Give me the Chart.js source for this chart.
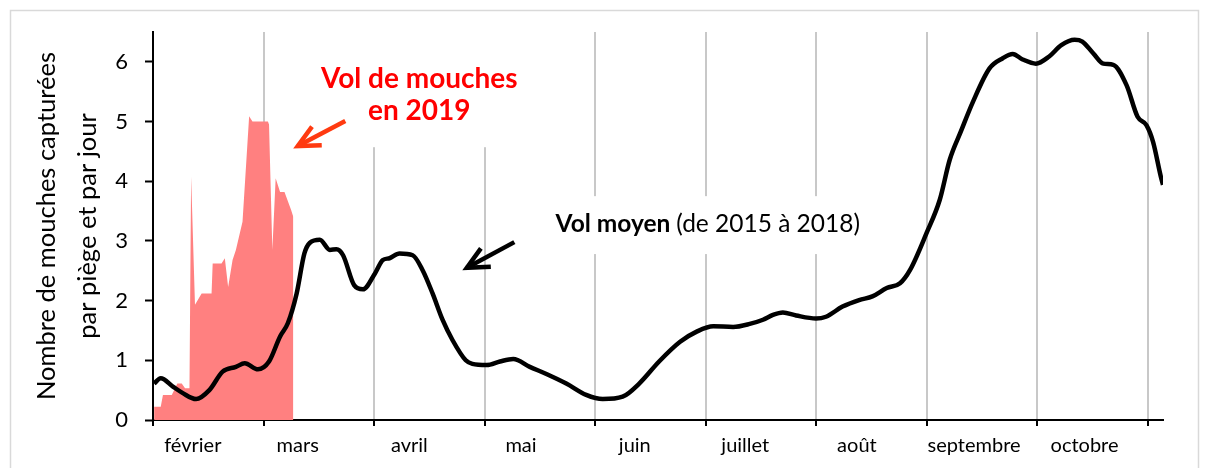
<!DOCTYPE html>
<html>
<head>
<meta charset="utf-8">
<script src="https://cdn.jsdelivr.net/npm/chart.js@4"></script>
<style>
html, body { margin: 0; padding: 0; background: #fff; }
#wrap { width: 1208px; height: 468px; }
</style>
</head>
<body>
<div id="wrap"><canvas id="chart" width="1208" height="468"></canvas></div>
<script>
// x values are in months counted from 1 February
const months = ['février', 'mars', 'avril', 'mai', 'juin', 'juillet', 'août', 'septembre', 'octobre'];
const monthLabelPos = [0.36, 1.31, 2.32, 3.33, 4.36, 5.36, 6.37, 7.43, 8.43];
const monthTicks = [0, 1, 2, 3, 4, 5, 6, 7, 8, 9];
const yTicks = [0, 1, 2, 3, 4, 5, 6];

// Vol moyen (de 2015 à 2018)
const avgX = [0.01, 0.07, 0.18, 0.27, 0.39, 0.51, 0.63, 0.75, 0.83, 0.95,
  1.05, 1.15, 1.22, 1.30, 1.37, 1.42, 1.51, 1.60, 1.66, 1.72,
  1.82, 1.90, 2.01, 2.08, 2.14, 2.23, 2.35, 2.44, 2.53, 2.62,
  2.71, 2.83, 2.89, 3.02, 3.14, 3.26, 3.41, 3.56, 3.74, 3.92,
  4.07, 4.25, 4.40, 4.58, 4.77, 4.92, 5.07, 5.25, 5.40, 5.52,
  5.61, 5.70, 5.82, 6.00, 6.09, 6.24, 6.39, 6.51, 6.64, 6.76,
  6.85, 7.00, 7.12, 7.21, 7.31, 7.42, 7.57, 7.69, 7.78, 7.87,
  7.99, 8.11, 8.22, 8.34, 8.41, 8.51, 8.60, 8.69, 8.81, 8.91,
  8.99, 9.05, 9.12, 9.14];
const avgY = [0.61, 0.70, 0.56, 0.45, 0.35, 0.50, 0.81, 0.89, 0.95, 0.85,
  0.98, 1.40, 1.62, 2.12, 2.79, 2.97, 3.02, 2.85, 2.86, 2.76,
  2.26, 2.19, 2.46, 2.68, 2.71, 2.79, 2.76, 2.51, 2.12, 1.68,
  1.34, 1.00, 0.94, 0.92, 0.98, 1.02, 0.89, 0.77, 0.61, 0.42,
  0.35, 0.39, 0.61, 0.98, 1.31, 1.48, 1.57, 1.56, 1.61, 1.68,
  1.76, 1.80, 1.75, 1.70, 1.73, 1.90, 2.01, 2.07, 2.21, 2.29,
  2.51, 3.13, 3.69, 4.36, 4.83, 5.33, 5.89, 6.06, 6.13, 6.04,
  5.97, 6.09, 6.28, 6.37, 6.34, 6.14, 5.97, 5.95, 5.61, 5.08,
  4.94, 4.66, 4.08, 3.94];

// Vol de mouches en 2019
const flyX = [0.01, 0.07, 0.09, 0.17, 0.22, 0.26, 0.29, 0.33, 0.345, 0.38,
  0.44, 0.53, 0.54, 0.62, 0.65, 0.68, 0.72, 0.75, 0.81, 0.85,
  0.87, 0.90, 1.04, 1.05, 1.08, 1.11, 1.15, 1.19, 1.25, 1.27];
const flyY = [0.22, 0.22, 0.42, 0.42, 0.61, 0.61, 0.53, 0.53, 4.08, 1.93,
  2.12, 2.12, 2.62, 2.62, 2.71, 2.23, 2.68, 2.85, 3.32, 4.5,
  5.09, 5.0, 5.0, 4.95, 2.85, 4.05, 3.82, 3.82, 3.52, 3.4];

const FONT = 'Lato';

// annotations, placed in data units
const notes = {
  boxes: [
    { x1: 1.33, x2: 3.54, y1: 6.5, y2: 4.57 },
    { x1: 3.54, x2: 6.48, y1: 3.75, y2: 2.78 }
  ],
  arrows: [
    { tip: [1.31, 4.59], tail: [1.74, 5.01], color: '#ff3a10' },
    { tip: [2.84, 2.55], tail: [3.27, 2.98], color: '#000000' }
  ]
};

const decor = {
  id: 'decor',
  beforeDraw(chart) {
    const ctx = chart.ctx;
    ctx.save();
    ctx.strokeStyle = '#d9d9d9';
    ctx.lineWidth = 1.5;
    ctx.strokeRect(10.5, 10.5, 1188, 480);
    ctx.restore();
  },
  beforeDatasetsDraw(chart) {
    const { ctx, scales: { x, y } } = chart;
    ctx.save();
    ctx.fillStyle = '#ffffff';
    notes.boxes.forEach(b => {
      const left = x.getPixelForValue(b.x1), right = x.getPixelForValue(b.x2);
      const top = y.getPixelForValue(b.y1), bottom = y.getPixelForValue(b.y2);
      ctx.fillRect(left, top, right - left, bottom - top);
    });
    ctx.restore();
  },
  afterDatasetsDraw(chart) {
    const { ctx, scales: { x, y } } = chart;
    ctx.save();

    // red label
    ctx.fillStyle = '#ff0000';
    ctx.font = 'bold 28px ' + FONT;
    ctx.textAlign = 'center';
    ctx.textBaseline = 'alphabetic';
    ctx.fillText('Vol de mouches', x.getPixelForValue(2.41), y.getPixelForValue(5.56));
    ctx.fillText('en 2019', x.getPixelForValue(2.41), y.getPixelForValue(5.03));

    // black label
    ctx.fillStyle = '#000000';
    ctx.textAlign = 'left';
    const lx = x.getPixelForValue(3.643), ly = y.getPixelForValue(3.15);
    ctx.font = 'bold 24.5px ' + FONT;
    ctx.fillText('Vol moyen', lx, ly);
    const w = ctx.measureText('Vol moyen ').width;
    ctx.font = '24.5px ' + FONT;
    ctx.fillText('(de 2015 à 2018)', lx + w, ly);

    // arrows
    notes.arrows.forEach(a => {
      const tx = x.getPixelForValue(a.tip[0]), ty = y.getPixelForValue(a.tip[1]);
      const sx = x.getPixelForValue(a.tail[0]), sy = y.getPixelForValue(a.tail[1]);
      const ang = Math.atan2(sy - ty, sx - tx);
      const len = 24, spread = 0.45;
      ctx.strokeStyle = a.color;
      ctx.lineWidth = 4.5;
      ctx.lineCap = 'butt';
      ctx.lineJoin = 'miter';
      ctx.beginPath();
      ctx.moveTo(sx, sy);
      ctx.lineTo(tx, ty);
      ctx.stroke();
      ctx.beginPath();
      ctx.moveTo(tx + len * Math.cos(ang - spread), ty + len * Math.sin(ang - spread));
      ctx.lineTo(tx, ty);
      ctx.lineTo(tx + len * Math.cos(ang + spread), ty + len * Math.sin(ang + spread));
      ctx.stroke();
    });
    ctx.restore();
  }
};

const ctx = document.getElementById('chart').getContext('2d');
const chart = new Chart(ctx, {
  type: 'line',
  data: {
    datasets: [{
      label: 'Vol moyen (de 2015 à 2018)',
      data: avgX.map((v, i) => ({ x: v, y: avgY[i] })),
      borderColor: '#000000',
      borderWidth: 4.5,
      pointRadius: 0,
      fill: false,
      cubicInterpolationMode: 'monotone',
      order: 0
    }, {
      label: 'Vol de mouches en 2019',
      data: flyX.map((v, i) => ({ x: v, y: flyY[i] })),
      borderWidth: 0,
      borderColor: 'rgba(0,0,0,0)',
      backgroundColor: '#ff8080',
      pointRadius: 0,
      fill: 'origin',
      tension: 0,
      order: 1
    }]
  },
  options: {
    responsive: false,
    animation: false,
    devicePixelRatio: 1,
    layout: { padding: { left: 0, top: 32, right: 45, bottom: 0 } },
    plugins: {
      legend: { display: false },
      tooltip: { enabled: false }
    },
    scales: {
      x: {
        type: 'linear',
        min: 0,
        max: 9.14,
        afterBuildTicks: function(scale) {
          scale.ticks = monthTicks.concat(monthLabelPos).sort((a, b) => a - b).map(v => ({ value: v }));
        },
        afterFit: function(scale) { scale.height = 48; },
        border: { display: true, color: '#000000', width: 2 },
        grid: {
          color: c => (c.tick && monthTicks.includes(c.tick.value) && c.tick.value > 0) ? '#c8c8c8' : 'rgba(0,0,0,0)',
          tickColor: c => (c.tick && monthTicks.includes(c.tick.value)) ? '#000000' : 'rgba(0,0,0,0)',
          lineWidth: 2,
          tickWidth: 2,
          tickLength: 6
        },
        ticks: {
          autoSkip: false,
          maxRotation: 0,
          padding: 8,
          color: '#000000',
          font: { family: FONT, size: 20 },
          callback: function(value) {
            const i = monthLabelPos.indexOf(value);
            return i >= 0 ? months[i] : '';
          }
        }
      },
      y: {
        min: 0,
        max: 6.5,
        afterBuildTicks: function(scale) {
          scale.ticks = yTicks.map(v => ({ value: v }));
        },
        afterFit: function(scale) { scale.width = 153; },
        border: { display: true, color: '#000000', width: 2 },
        grid: {
          drawOnChartArea: false,
          tickColor: '#000000',
          tickLength: 8,
          tickWidth: 2
        },
        ticks: {
          padding: 17,
          color: '#000000',
          font: { family: FONT, size: 22 }
        },
        title: {
          display: true,
          text: ['Nombre de mouches capturées', 'par piège et par jour'],
          color: '#000000',
          font: { family: FONT, size: 25.5, lineHeight: 41 / 25.5 },
          padding: { top: 26, bottom: 0 }
        }
      }
    }
  },
  plugins: [decor]
});
</script>
</body>
</html>
